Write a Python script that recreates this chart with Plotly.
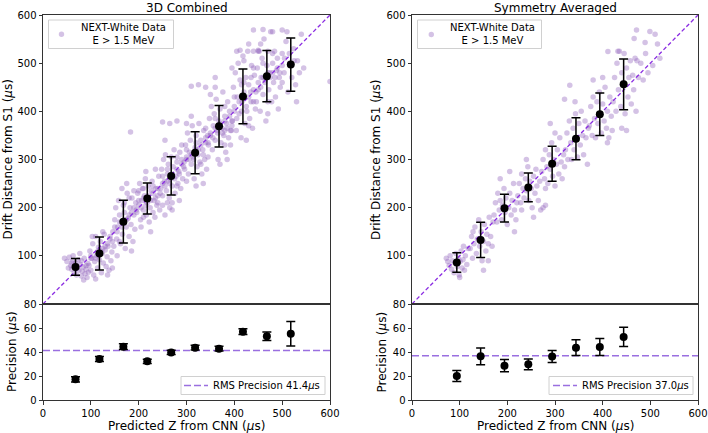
import plotly.graph_objects as go

# ---------------- data ----------------
# Binned means (upper panels) and precision (lower panels)
comb_bin_x = [68, 118, 168, 218, 268, 318, 368, 418, 468, 518]
comb_bin_y = [77, 105, 171, 219, 266, 314, 369, 431, 473, 497]
comb_prec = [17.4, 34.3, 44.5, 32.4, 39.8, 43.7, 42.9, 57.0, 53.2, 55.3]
comb_prec_err = [2.2, 2.1, 2.4, 1.8, 1.8, 2.0, 2.0, 2.4, 3.5, 10.2]
comb_rms = 41.4

sym_bin_x = [94, 144, 194, 244, 294, 344, 394, 444]
sym_bin_y = [86, 133, 199, 242, 291, 343, 394, 456]
sym_prec = [20.2, 36.5, 28.8, 29.9, 36.3, 43.7, 44.3, 52.6]
sym_prec_err = [4.6, 7.0, 5.0, 4.5, 5.0, 6.5, 7.0, 8.0]
sym_rms = 37.0

diag = [0, 600]

data_label_1 = "NEXT-White Data"
data_label_2 = "E > 1.5 MeV"

# Event clouds (predicted z, drift distance)
comb_points = [
    (45,95),(50,88),(55,97),(58,80),(60,72),(62,90),(65,65),(66,78),(68,85),(70,60),(72,75),(74,92),(75,70),
    (78,82),(80,58),(82,68),(84,77),(86,95),(88,63),(90,72),(92,55),(94,84),(63,100),(77,105),(53,75),(85,50),(95,66),
    (96,80),(98,110),(100,70),(102,95),(104,125),(106,60),(108,88),(110,140),(112,100),(114,75),(116,118),(118,92),
    (120,130),(122,65),(124,105),(126,85),(128,145),(130,112),(132,78),(134,98),(136,120),(138,70),(140,135),(142,90),
    (144,108),(110,52),(125,150),(135,60),(103,140),(145,75),
    (146,150),(148,120),(150,175),(152,200),(154,135),(156,160),(158,215),(160,185),(162,125),(164,170),(166,145),
    (168,205),(170,190),(172,115),(174,160),(176,230),(178,178),(180,140),(182,200),(184,165),(186,220),(188,130),
    (190,185),(192,155),(194,210),(155,100),(165,240),(185,110),(175,250),(190,235),(160,130),(183,357),
    (196,190),(198,230),(200,205),(202,250),(204,175),(206,215),(208,240),(210,195),(212,225),(214,260),(216,185),
    (218,210),(220,245),(222,170),(224,200),(226,235),(228,255),(230,190),(232,215),(234,180),(236,240),(238,205),
    (240,225),(242,265),(244,195),(250,205),(255,185),(260,210),(265,200),(270,195),(215,275),(205,160),(225,150),(235,280),
    (246,240),(248,280),(250,225),(252,300),(254,255),(256,310),(258,235),(260,270),(262,290),(264,220),(266,260),
    (268,305),(270,245),(272,285),(274,320),(276,230),(278,265),(280,295),(282,250),(284,275),(286,315),(288,240),
    (290,300),(292,260),(294,285),(255,340),(270,210),(285,215),(290,330),(300,255),(250,378),(265,375),(280,380),
    (296,280),(298,330),(300,300),(302,355),(304,270),(306,315),(308,340),(310,290),(312,370),(314,305),(316,260),
    (318,325),(320,350),(322,285),(324,310),(326,375),(328,295),(330,340),(332,270),(334,320),(336,360),(338,300),
    (340,335),(342,280),(344,350),(310,390),(320,245),(335,250),(300,375),(345,305),(310,452),(325,455),(340,450),
    (346,330),(348,385),(350,350),(352,410),(354,320),(356,370),(358,395),(360,340),(362,425),(364,360),(366,300),
    (368,380),(370,405),(372,335),(374,365),(376,440),(378,350),(380,390),(382,315),(384,375),(386,420),(388,345),
    (390,400),(392,330),(394,360),(360,450),(370,290),(385,300),(350,435),(395,380),(380,360),(392,360),(360,470),
    (396,380),(398,450),(400,410),(402,480),(404,360),(406,430),(408,500),(410,395),(412,465),(414,345),(416,420),
    (418,515),(420,440),(422,375),(424,470),(426,400),(428,525),(430,455),(432,385),(434,440),(436,495),(438,365),
    (440,420),(442,475),(444,405),(405,525),(425,340),(440,525),(415,455),(435,470),(412,527),(450,527),
    (446,420),(448,490),(450,445),(452,525),(454,400),(456,470),(458,510),(460,435),(462,550),(464,460),(466,380),
    (468,495),(470,525),(472,445),(474,480),(476,565),(478,420),(480,500),(482,460),(484,525),(486,430),(488,485),
    (490,510),(492,405),(494,470),(460,570),(480,565),(470,395),(450,525),(440,569),(500,569),
    (496,450),(500,520),(504,480),(508,545),(512,440),(516,500),(520,470),(524,530),(528,455),(532,505),(536,480),
    (540,560),(510,565),(530,420),(545,490),(600,462),
    (150,160),(160,170),(170,175),(180,185),(190,200),(200,215),(210,220),(220,225),(230,230),(240,240),
    (250,250),(260,255),(270,270),(280,280),(290,290),(300,305),(310,310),(320,320),(330,330),(340,345),
    (350,355),(360,365),(370,375),(380,380),(390,390),(400,400),(410,420),(420,430),(430,430),(440,445),
    (450,460),(460,470),(470,480),(480,480),(490,490),(500,495),(120,110),(130,120),(140,140),(100,95),
    (60,85),(70,80),(80,90),(90,80),(100,100),(110,95),(115,110),(125,115),(135,125),(145,130),(155,150),
    (165,160),(175,175),(185,190),(195,195),(205,200),(215,205),(225,215),(235,220),(245,230),(255,245),
    (265,250),(275,260),(285,270),(295,295),(305,300),(315,300),(325,320),(335,310),(345,335),(355,345),
    (365,355),(375,355),(385,365),(395,370),(405,385),(415,400),(425,410),(435,420),(445,440),(455,450),
    (465,465),(475,470),(485,470),(495,480),(505,510),(515,520),(525,505),(170,210),(180,220),(200,235),
    (210,240),(230,245),(250,265),(260,280),(280,305),(300,320),(320,335),(340,365),(360,385),(380,410),
    (400,430),(420,460),(440,490),(460,500),(480,520),(210,180),(240,210),(280,245),(330,290),(380,330),
    (430,370),(470,420),(500,460),(430,540),(455,540),(420,505),(395,490),
]

sym_points = [
    (72,95),(75,88),(78,80),(80,100),(83,72),(85,90),(88,65),(90,85),(92,105),(95,78),(97,95),(99,60),(101,88),
    (103,110),(105,75),(107,92),(110,70),(112,100),(115,82),(118,115),(100,55),(108,120),
    (122,115),(125,140),(127,95),(130,125),(132,160),(135,105),(137,135),(140,175),(142,120),(145,150),(147,90),
    (150,130),(152,165),(155,110),(157,145),(160,125),(162,180),(165,140),(168,120),(170,170),(150,70),(160,90),(128,150),
    (172,185),(175,210),(178,170),(180,230),(183,195),(185,215),(188,175),(190,205),(193,240),(195,190),(197,220),
    (200,165),(203,200),(205,230),(208,185),(210,215),(213,250),(215,195),(218,175),(220,210),(185,260),(205,275),(215,150),
    (222,225),(225,250),(228,210),(230,270),(233,240),(235,220),(238,260),(240,235),(243,285),(245,215),(247,255),
    (250,240),(252,200),(255,265),(258,230),(260,280),(262,245),(265,215),(268,255),(270,195),(240,300),(255,180),
    (230,195),(275,200),(280,205),
    (272,275),(275,300),(278,260),(280,320),(283,285),(285,250),(288,310),(290,280),(293,335),(295,265),(297,300),
    (300,245),(303,290),(305,320),(308,270),(310,345),(313,295),(315,260),(318,310),(320,285),(290,375),(300,355),(280,240),
    (322,320),(325,355),(327,300),(330,380),(333,335),(335,300),(338,365),(340,320),(343,395),(345,345),(347,305),
    (350,375),(353,330),(355,400),(358,350),(360,310),(363,380),(365,345),(368,290),(370,365),(320,425),(331,454),(342,420),
    (372,370),(375,410),(378,350),(380,430),(383,385),(385,345),(388,420),(390,375),(393,440),(395,395),(397,355),
    (400,415),(403,380),(405,450),(408,365),(410,400),(413,345),(415,430),(418,390),(420,360),(380,465),(400,470),(410,335),
    (422,420),(425,470),(428,400),(430,500),(433,445),(435,525),(438,410),(440,480),(443,460),(445,520),(447,395),
    (450,490),(453,430),(455,470),(458,505),(460,415),(463,475),(465,445),(468,510),(470,400),(440,365),(450,360),
    (411,524),(432,525),(475,470),(480,500),(485,465),(490,520),(495,480),(505,495),(510,560),(515,540),(472,505),
    (520,510),(466,551),(471,569),(499,566),(489,543),
]

# ---------------- styles ----------------
W, H = 708, 433
cloud_color = "rgba(148,103,189,0.40)"
diag_color = "#8a2be2"
rms_color = "#9a6fe0"
font_family = "DejaVu Sans, Arial, sans-serif"

def px_x(p):
    return p / W

def px_y(p):
    return 1 - p / H

fig = go.Figure()

panels = [
    dict(pts=comb_points, bx=comb_bin_x, by=comb_bin_y, prec=comb_prec, perr=comb_prec_err, rms=comb_rms,
         up=("x", "y"), lo=("x2", "y2"),
         up_leg=dict(box=(48.5, 173.5, 20, 48.5), mk=(61.5, 34.3), tx=123),
         lo_leg=dict(box=(181, 325, 376.5, 394.5), ln=(184, 208), tx=(212.5, 320))),
    dict(pts=sym_points, bx=sym_bin_x, by=sym_bin_y, prec=sym_prec, perr=sym_prec_err, rms=sym_rms,
         up=("x3", "y3"), lo=("x4", "y4"),
         up_leg=dict(box=(417.5, 541.5, 20, 48.5), mk=(431.3, 34.5), tx=492),
         lo_leg=dict(box=(549, 693, 376.5, 394.5), ln=(553, 577), tx=(581.5, 689))),
]

shapes = []
annots = []

for p in panels:
    xs = [a for a, b in p["pts"]]
    ys = [b for a, b in p["pts"]]
    fig.add_trace(go.Scatter(
        x=xs, y=ys, mode="markers", xaxis=p["up"][0], yaxis=p["up"][1],
        marker=dict(color=cloud_color, size=5.5, line=dict(width=0)), showlegend=False))
    fig.add_trace(go.Scatter(
        x=diag, y=diag, mode="lines", xaxis=p["up"][0], yaxis=p["up"][1],
        line=dict(color=diag_color, width=1.3, dash="4px,2.5px"), showlegend=False, hoverinfo="skip"))
    fig.add_trace(go.Scatter(
        x=p["bx"], y=p["by"], mode="markers", xaxis=p["up"][0], yaxis=p["up"][1],
        marker=dict(color="black", size=8),
        error_y=dict(type="data", array=p["prec"], color="black", thickness=1.5, width=4.5),
        showlegend=False))
    fig.add_trace(go.Scatter(
        x=diag, y=[p["rms"], p["rms"]], mode="lines", xaxis=p["lo"][0], yaxis=p["lo"][1],
        line=dict(color=rms_color, width=1.5, dash="7px,3px"), showlegend=False))
    fig.add_trace(go.Scatter(
        x=p["bx"], y=p["prec"], mode="markers", xaxis=p["lo"][0], yaxis=p["lo"][1],
        marker=dict(color="black", size=8),
        error_y=dict(type="data", array=p["perr"], color="black", thickness=1.5, width=4.5),
        showlegend=False))

    # upper legend (drawn by hand to match the compact matplotlib box)
    ul = p["up_leg"]
    x0, x1, y0, y1 = ul["box"]
    shapes.append(dict(type="rect", xref="paper", yref="paper", x0=px_x(x0), x1=px_x(x1), y0=px_y(y1), y1=px_y(y0),
                       line=dict(color="#d0d0d0", width=1), fillcolor="rgba(255,255,255,0.85)", layer="above"))
    mx, my = ul["mk"]
    shapes.append(dict(type="circle", xref="paper", yref="paper", x0=px_x(mx - 2.7), x1=px_x(mx + 2.7),
                       y0=px_y(my + 2.7), y1=px_y(my - 2.7), line=dict(width=0), fillcolor=cloud_color, layer="above"))
    annots.append(dict(text=data_label_1 + "<br>" + data_label_2, x=px_x(ul["tx"]), y=px_y(34.3),
                       font=dict(size=10), align="center"))

    ll = p["lo_leg"]
    x0, x1, y0, y1 = ll["box"]
    shapes.append(dict(type="rect", xref="paper", yref="paper", x0=px_x(x0), x1=px_x(x1), y0=px_y(y1), y1=px_y(y0),
                       line=dict(color="#d0d0d0", width=1), fillcolor="rgba(255,255,255,0.85)", layer="above"))
    lx0, lx1 = ll["ln"]
    ly = (y0 + y1) / 2
    shapes.append(dict(type="line", xref="paper", yref="paper", x0=px_x(lx0), x1=px_x(lx1), y0=px_y(ly), y1=px_y(ly),
                       line=dict(color=rms_color, width=1.5, dash="7px,3px"), layer="above"))
    tx0, tx1 = ll["tx"]
    annots.append(dict(text=f"RMS Precision {p['rms']:.1f}<i>μ</i>s", x=px_x((tx0 + tx1) / 2), y=px_y(ly),
                       font=dict(size=10)))

left_dom = [px_x(43), px_x(330)]
right_dom = [px_x(412), px_x(698)]
up_dom = [px_y(304), px_y(15)]
lo_dom = [px_y(400.3), px_y(304)]

axis_common = dict(showgrid=False, zeroline=False, showline=True, mirror=True, linecolor="#333",
                   linewidth=1, ticks="outside", ticklen=3.5, tickwidth=0.8, tickcolor="#333",
                   automargin=False,
                   tickfont=dict(size=10, color="black", family=font_family))

def xup(dom, anchor):
    return dict(axis_common, domain=dom, range=[0, 600], anchor=anchor, showticklabels=False, ticks="")

def xlo(dom, anchor):
    return dict(axis_common, domain=dom, range=[0, 600], anchor=anchor, tickvals=[0, 100, 200, 300, 400, 500, 600])

def yup(anchor):
    return dict(axis_common, domain=up_dom, range=[0, 600], anchor=anchor, tickvals=[100, 200, 300, 400, 500, 600])

def ylo(anchor):
    return dict(axis_common, domain=lo_dom, range=[0, 80], anchor=anchor, tickvals=[0, 20, 40, 60, 80])

fig.update_layout(
    width=W, height=H, margin=dict(l=0, r=0, t=0, b=0, autoexpand=False),
    paper_bgcolor="white", plot_bgcolor="white",
    font=dict(family=font_family, color="black"),
    xaxis=xup(left_dom, "y"), yaxis=yup("x"),
    xaxis2=xlo(left_dom, "y2"), yaxis2=ylo("x2"),
    xaxis3=xup(right_dom, "y3"), yaxis3=yup("x3"),
    xaxis4=xlo(right_dom, "y4"), yaxis4=ylo("x4"),
    showlegend=False,
    shapes=shapes,
)

annots += [
    dict(text="3D Combined", x=px_x(186.5), y=px_y(7.5), font=dict(size=12)),
    dict(text="Symmetry Averaged", x=px_x(555), y=px_y(7.5), font=dict(size=12)),
    dict(text="Predicted Z from CNN (<i>μ</i>s)", x=px_x(186.5), y=px_y(425.5), font=dict(size=12)),
    dict(text="Predicted Z from CNN (<i>μ</i>s)", x=px_x(555), y=px_y(425.5), font=dict(size=12)),
    dict(text="Drift Distance from S1 (<i>μ</i>s)", x=px_x(7.5), y=px_y(160), textangle=-90, font=dict(size=12)),
    dict(text="Drift Distance from S1 (<i>μ</i>s)", x=px_x(376), y=px_y(160), textangle=-90, font=dict(size=12)),
    dict(text="Precision (<i>μ</i>s)", x=px_x(12), y=px_y(352), textangle=-90, font=dict(size=12)),
    dict(text="Precision (<i>μ</i>s)", x=px_x(381.5), y=px_y(352), textangle=-90, font=dict(size=12)),
]
for a in annots:
    fig.add_annotation(xref="paper", yref="paper", showarrow=False, xanchor="center", yanchor="middle",
                       font_family=font_family, font_color="black", **a)

fig.write_html("out.html", config={"displayModeBar": False},
               post_script="document.body.style.margin='0px'; document.body.style.overflow='hidden';")
